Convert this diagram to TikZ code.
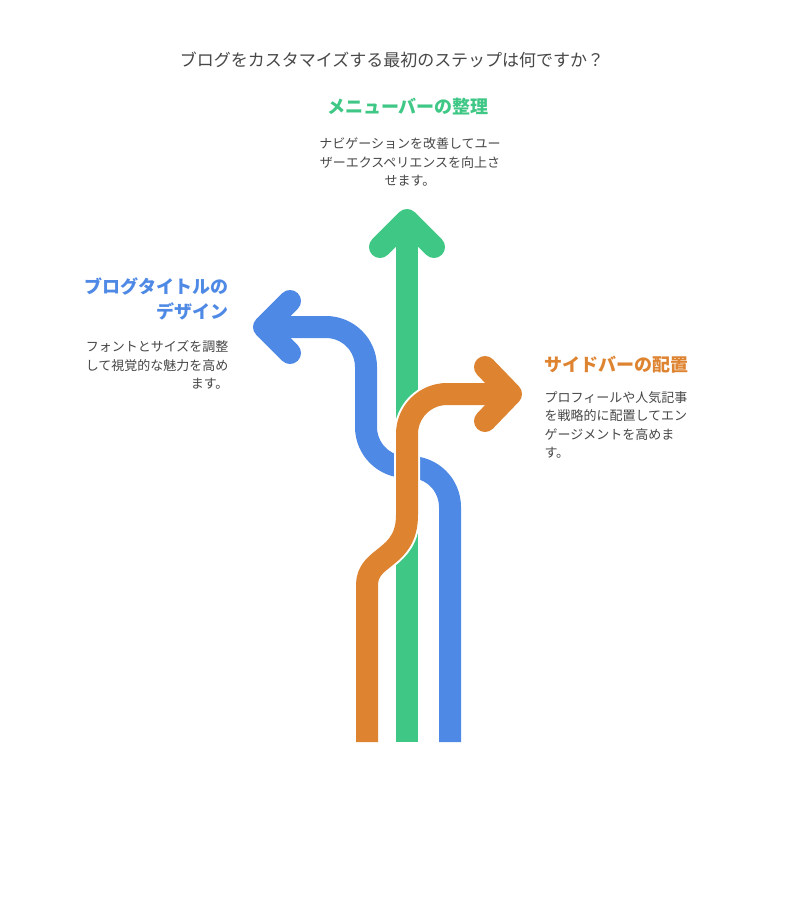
\documentclass[tikz,border=0pt]{standalone}
\usepackage{fontspec}
\setmainfont{Noto Sans CJK JP}
\definecolor{cg}{HTML}{3EC785}
\definecolor{cb}{HTML}{4E89E5}
\definecolor{co}{HTML}{DE8431}
\definecolor{tx}{HTML}{474747}
\begin{document}
\begin{tikzpicture}[x=1pt,y=-1pt,
  band/.style={line width=22pt,line join=round},
  head/.style={line width=22pt,line cap=round,line join=round},
  ttl/.style={font=\bfseries\fontsize{18}{22}\selectfont},
  dsc/.style={font=\fontsize{13}{18.5}\selectfont,text=tx}]
\useasboundingbox[fill=white] (0,0) rectangle (785,906);
\node[font=\fontsize{17}{20}\selectfont,text=tx] (title) at (392,60) {ブログをカスタマイズする最初のステップは何ですか？};
% blue
\coordinate (b0) at (450,742);
\coordinate (bt) at (262,327);
\draw[cb,band] (b0) -- (450,507) arc[start angle=0,end angle=-90,radius=40] -- (406,467) arc[start angle=90,end angle=180,radius=40] -- (366,367) arc[start angle=0,end angle=-90,radius=40] -- (bt);
\draw[cb,head] (290,301) -- (264,327) -- (290,353);
% green
\coordinate (g0) at (407,742);
\coordinate (gt) at (407,222);
\draw[white,line width=26pt] (407,505) -- (407,430);
\draw[cg,band] (g0) -- (gt);
\draw[cg,head] (380,247) -- (407,220) -- (434,247);
% orange
\coordinate (o0) at (367,742);
\coordinate (ot) at (508,394);
\draw[white,line width=26pt] (367,742) -- (367,585) .. controls (367,555) and (407,560) .. (407,515) -- (407,434) arc[start angle=180,end angle=270,radius=40] -- (ot);
\draw[co,band] (o0) -- (367,585) .. controls (367,555) and (407,560) .. (407,515) -- (407,434) arc[start angle=180,end angle=270,radius=40] -- (ot);
\fill[co] (356,742) rectangle (378,738);
\draw[co,head] (485,367) -- (511,394) -- (485,421);
% texts
\node[ttl,text=cg] (gtitle) at (408,107) {メニューバーの整理};
\node[dsc,align=center] (gdesc) at (410,162) {ナビゲーションを改善してユー\\ザーエクスペリエンスを向上さ\\せます。};
\node[ttl,text=cb,align=right,anchor=north east,font=\bfseries\fontsize{18}{25}\selectfont] (btitle) at (232,274) {ブログタイトルの\\デザイン};
\node[dsc,align=right,anchor=north east] (bdesc) at (232,337) {フォントとサイズを調整\\して視覚的な魅力を高め\\ます。};
\node[ttl,text=co,anchor=west] (otitle) at (541,365) {サイドバーの配置};
\node[dsc,align=left,anchor=north west] (odesc) at (541,388) {プロフィールや人気記事\\を戦略的に配置してエン\\ゲージメントを高めま\\す。};
\end{tikzpicture}
\end{document}
